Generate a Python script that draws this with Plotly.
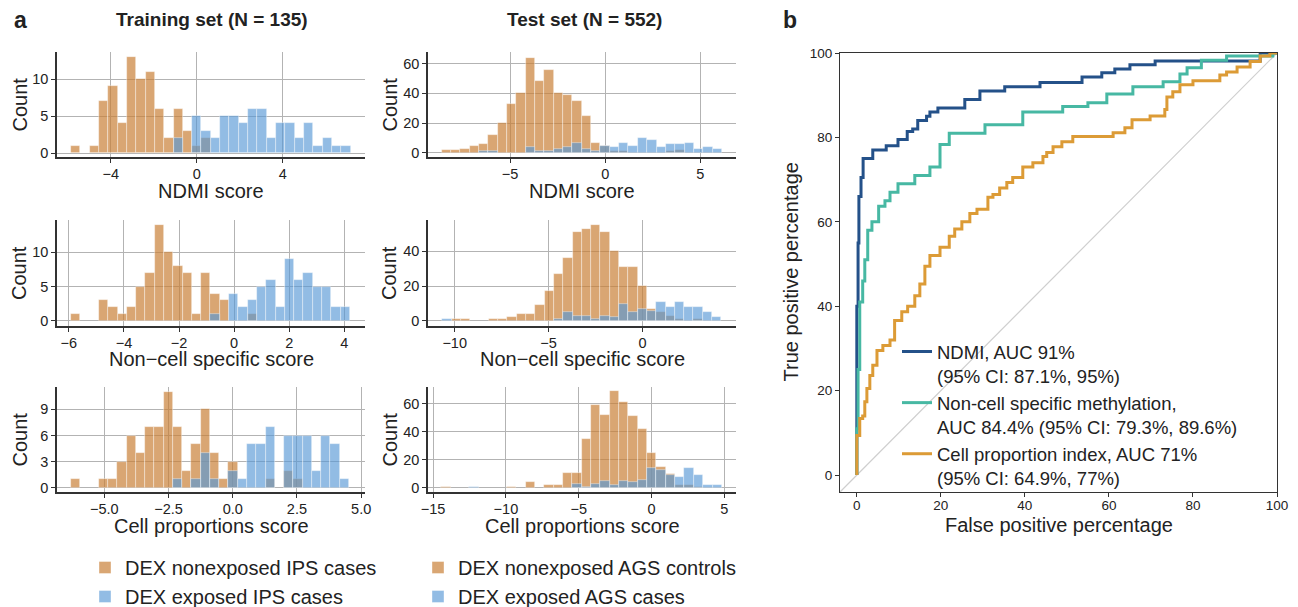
import numpy as np
import plotly.graph_objects as go

FONT = "Liberation Sans, Arial, Helvetica, sans-serif"
W, H = 1298, 607
TXT = "#222222"

# ---------------- histogram data (30 bins per panel) ----------------
# bin ranges (lo, hi)
ndmi_train_range = (-5.85, 7.15)
ndmi_train_nonexp = [1, 0, 1, 7, 9, 4, 13, 10, 11, 6, 2, 6, 3, 1, 2, 0, 0, 0, 0, 0, 0, 0, 0, 0, 0, 0, 0, 0, 0, 0]
ndmi_train_exp = [0, 0, 0, 0, 0, 0, 0, 0, 0, 0, 0, 2, 0, 5, 3, 2, 5, 5, 4, 6, 6, 2, 4, 4, 2, 4, 1, 2, 1, 1]

ndmi_test_range = (-8.61, 6.14)
ndmi_test_nonexp = [2, 2, 3, 5, 6, 12, 20, 33, 40, 64, 48, 56, 40, 39, 35, 25, 7, 5, 1, 1, 0, 0, 0, 0, 1, 2, 0, 0, 0, 0]
ndmi_test_exp = [0, 0, 0, 0, 1, 1, 0, 0, 0, 4, 1, 1, 3, 4, 7, 3, 1, 5, 4, 7, 5, 10, 9, 4, 6, 6, 7, 3, 4, 3]

noncell_train_range = (-5.92, 4.20)
noncell_train_nonexp = [1, 0, 0, 3, 2, 1, 2, 5, 7, 14, 10, 8, 7, 1, 7, 4, 3, 0, 0, 1, 0, 0, 0, 0, 0, 0, 0, 0, 0, 0]
noncell_train_exp = [0, 0, 0, 0, 0, 0, 0, 0, 0, 0, 0, 0, 0, 0, 0, 1, 0, 4, 2, 3, 5, 6, 2, 9, 6, 7, 5, 5, 2, 2]

noncell_test_range = (-10.66, 4.19)
noncell_test_nonexp = [0, 1, 1, 0, 0, 1, 1, 2, 4, 4, 9, 17, 27, 36, 51, 53, 55, 51, 40, 31, 31, 20, 7, 5, 3, 1, 0, 1, 0, 0]
noncell_test_exp = [1, 0, 0, 0, 0, 0, 0, 0, 0, 0, 0, 0, 1, 5, 3, 3, 1, 3, 2, 10, 5, 7, 6, 11, 8, 11, 8, 8, 5, 2]

cell_train_range = (-6.29, 4.52)
cell_train_nonexp = [1, 0, 0, 1, 1, 3, 6, 4, 7, 7, 11, 7, 2, 5, 9, 4, 1, 3, 0, 0, 0, 1, 0, 2, 1, 0, 0, 0, 0, 0]
cell_train_exp = [0, 0, 0, 0, 0, 0, 0, 0, 0, 0, 0, 1, 0, 1, 4, 1, 0, 2, 1, 5, 5, 7, 0, 6, 6, 6, 2, 6, 5, 1]

cell_test_range = (-14.43, 4.83)
cell_test_nonexp = [1, 0, 0, 0, 0, 0, 0, 1, 0, 4, 0, 2, 2, 11, 11, 35, 59, 52, 69, 61, 51, 42, 25, 15, 10, 2, 2, 1, 0, 0]
cell_test_exp = [0, 0, 0, 1, 0, 0, 0, 0, 0, 0, 0, 0, 0, 0, 3, 1, 3, 5, 2, 5, 4, 6, 14, 13, 9, 8, 14, 9, 2, 2]

# ---------------- ROC data (step corners: FPR %, TPR %) ----------------
ndmi_fpr = [0, 0, 0.3, 0.5, 1, 1.5, 3.8, 7, 9.8, 12, 13.3, 14.5, 16.6, 17.4, 19.3, 25.7, 29.3, 35.2, 43.6, 53.6, 58.3, 61.4, 65, 71, 96, 100]
ndmi_tpr = [0, 40, 55, 66, 70.5, 75, 77, 78, 79.5, 81.4, 82, 84, 85, 86, 87, 89, 91, 92, 93, 94.3, 95.3, 96.2, 97.2, 98.1, 100, 100]

noncell_fpr = [0, 0, 0.3, 0.7, 1.4, 1.9, 2.6, 3.6, 5.2, 6.7, 7.9, 9.8, 13.8, 17.4, 19.8, 22, 30.5, 39.5, 49, 55, 59.5, 65.7, 72.9, 76.9, 78.6, 82, 88, 99, 100]
noncell_tpr = [0, 11, 25, 41, 46, 51, 58, 60, 63.7, 65, 67, 69, 71, 73, 78.3, 81, 83, 86, 87.3, 88.2, 90.3, 92, 93.2, 95, 96.5, 98.3, 99.3, 100, 100]

cellprop_fpr = [0, 0, 0.7, 1.4, 1.9, 2.4, 3.1, 3.8, 4.8, 6.2, 7.9, 9, 10.7, 12.1, 13.8, 15, 16.2, 17.4, 19.8, 22, 23.3, 25, 26.9, 28.6, 31.2, 32.4, 34, 35.7, 37.1, 39.5, 41.9, 44.3, 45.2, 46.7, 48.8, 51.4, 61, 63.8, 65.5, 69.8, 73.3, 73.8, 75.2, 76.9, 80, 86.4, 88, 90.5, 93.6, 96, 98.3, 100]
cellprop_tpr = [0, 9.4, 13.4, 14, 17.4, 20.5, 23.6, 26, 29.5, 30.7, 32, 36.6, 38.7, 40, 42.5, 45.3, 49.5, 52, 54, 56.6, 58.3, 60, 62, 63, 65.8, 66.5, 68, 69.3, 70.5, 73, 74, 75.5, 76.4, 77.8, 79, 80.2, 81.1, 82.3, 84.2, 85.1, 86.6, 89.6, 90.8, 92.5, 93.4, 94.8, 95.5, 96.7, 98, 99.3, 100, 100]

roc_names = [
    "NDMI, AUC 91%<br>(95% CI: 87.1%, 95%)",
    "Non-cell specific methylation,<br>AUC 84.4% (95% CI: 79.3%, 89.6%)",
    "Cell proportion index, AUC 71%<br>(95% CI: 64.9%, 77%)",
]
roc_colors = ["#245189", "#47b8a3", "#dc9b36"]

group_names_left = ["DEX nonexposed IPS cases", "DEX exposed IPS cases"]
group_names_right = ["DEX nonexposed AGS controls", "DEX exposed AGS cases"]

BROWN = "rgba(201,128,55,0.70)"
BLUE = "rgba(87,152,214,0.65)"
EDGE = "rgba(255,255,255,0.55)"

fig = go.Figure()


def px_x(p):
    return p / W


def px_y(p):
    return 1 - p / H


col_px = [(57, 365), (428, 736)]
row_px = [(52, 157), (220, 326), (387, 492)]
col_dom = [[px_x(a), px_x(b)] for a, b in col_px]
row_dom = [[px_y(b), px_y(a)] for a, b in row_px]
xtitle_y = [191, 359, 526]
ytitle_x = [19, 389]

panels = [
    # (range, nonexp, exp, row, col, xrange, yrange, xticks, yticks, xtitle, xfmt)
    (ndmi_train_range, ndmi_train_nonexp, ndmi_train_exp, 0, 0, [-6.5, 7.82], [-0.54, 13.65], [-4, 0, 4], [0, 5, 10], "NDMI score", None),
    (ndmi_test_range, ndmi_test_nonexp, ndmi_test_exp, 0, 1, [-9.32, 6.88], [-2.7, 67.8], [-5, 0, 5], [0, 20, 40, 60], "NDMI score", None),
    (noncell_train_range, noncell_train_nonexp, noncell_train_exp, 1, 0, [-6.43, 4.75], [-0.73, 14.7], [-6, -4, -2, 0, 2, 4], [0, 5, 10], "Non\u2212cell specific score", None),
    (noncell_test_range, noncell_test_nonexp, noncell_test_exp, 1, 1, [-11.42, 4.97], [-2.9, 58], [-10, -5, 0], [0, 20, 40], "Non\u2212cell specific score", None),
    (cell_train_range, cell_train_nonexp, cell_train_exp, 2, 0, [-6.84, 5.15], [-0.46, 11.56], [-5, -2.5, 0, 2.5, 5], [0, 3, 6, 9], "Cell proportions score", ".1f"),
    (cell_test_range, cell_test_nonexp, cell_test_exp, 2, 1, [-15.35, 5.8], [-2.9, 72], [-15, -10, -5, 0, 5], [0, 20, 40, 60], "Cell proportions score", None),
]

annots = []
layout_axes = {}
for i, (rng, nonexp, exp, r, c, xr, yr, xt, yt, xtitle, xfmt) in enumerate(panels):
    n = i + 1
    edges = np.linspace(rng[0], rng[1], len(nonexp) + 1)
    centers = (edges[:-1] + edges[1:]) / 2
    bw = edges[1] - edges[0]
    names = group_names_left if c == 0 else group_names_right
    leg = "legend2" if c == 0 else "legend3"
    for counts, color, name in ((nonexp, BROWN, names[0]), (exp, BLUE, names[1])):
        cnt = np.array(counts, dtype=float)
        keep = cnt > 0
        fig.add_trace(go.Bar(
            x=centers[keep], y=cnt[keep], width=bw,
            marker=dict(color=color, line=dict(color=EDGE, width=0.7)),
            name=name, legend=leg, showlegend=(r == 0),
            xaxis=f"x{n}", yaxis=f"y{n}", hoverinfo="skip",
        ))
    xk = "xaxis" if n == 1 else f"xaxis{n}"
    yk = "yaxis" if n == 1 else f"yaxis{n}"
    common = dict(showgrid=True, gridcolor="#b3b3b3", gridwidth=0.8, zeroline=False,
                  showline=True, linecolor="#333333", linewidth=1.5, automargin=False,
                  ticks="outside", ticklen=4, tickwidth=1.2, tickcolor="#333333",
                  tickfont=dict(size=14.5, color=TXT, family=FONT))
    layout_axes[xk] = dict(domain=col_dom[c], range=xr, tickvals=xt, anchor=f"y{n}",
                           tickformat=xfmt if xfmt else None, ticklabelstandoff=-1, **common)
    layout_axes[yk] = dict(domain=row_dom[r], range=yr, tickvals=yt, anchor=f"x{n}", **common)
    # axis titles
    annots.append(dict(text=xtitle, x=px_x(sum(col_px[c]) / 2), y=px_y(xtitle_y[r]),
                       font=dict(size=20)))
    annots.append(dict(text="Count", x=px_x(ytitle_x[c]), y=px_y(sum(row_px[r]) / 2),
                       font=dict(size=20), textangle=-90))

# ---------------- ROC panel ----------------
for fpr, tpr, name, color in ((ndmi_fpr, ndmi_tpr, roc_names[0], roc_colors[0]),
                              (noncell_fpr, noncell_tpr, roc_names[1], roc_colors[1]),
                              (cellprop_fpr, cellprop_tpr, roc_names[2], roc_colors[2])):
    fig.add_trace(go.Scatter(x=fpr, y=tpr, mode="lines", name=name,
                             line=dict(color=color, width=3, shape="hv"),
                             xaxis="x7", yaxis="y7", legend="legend", hoverinfo="skip"))

roc_px_x = (840, 1277)
roc_px_y = (53, 492)
roc_common = dict(showgrid=False, zeroline=False, showline=True, mirror=True, automargin=False,
                  linecolor="#333333", linewidth=1.2, ticks="outside", ticklen=4,
                  tickwidth=1.2, tickcolor="#333333",
                  tickfont=dict(size=13.5, color=TXT, family=FONT))
layout_axes["xaxis7"] = dict(domain=[px_x(roc_px_x[0]), px_x(roc_px_x[1])], range=[-4, 100], anchor="y7",
                             tickvals=[0, 20, 40, 60, 80, 100], ticklabelstandoff=-3, **roc_common)
layout_axes["yaxis7"] = dict(domain=[px_y(roc_px_y[1]), px_y(roc_px_y[0])], range=[-4, 100], anchor="x7",
                             tickvals=[0, 20, 40, 60, 80, 100], **roc_common)
annots.append(dict(text="False positive percentage", x=px_x(sum(roc_px_x) / 2), y=px_y(525),
                   font=dict(size=20)))
annots.append(dict(text="True positive percentage", x=px_x(790), y=px_y(sum(roc_px_y) / 2),
                   font=dict(size=20), textangle=-90))

fig.update_layout(**layout_axes)

# chance diagonal, corner to corner of the ROC plot area
fig.add_shape(type="line", xref="x7 domain", yref="y7 domain", x0=0, y0=0, x1=1, y1=1,
              line=dict(color="#cfcfcf", width=1.2), layer="below")

annots += [
    dict(text="<b>a</b>", x=px_x(20), y=px_y(20), font=dict(size=23)),
    dict(text="<b>Training set (N = 135)</b>", x=px_x(212), y=px_y(20), font=dict(size=19)),
    dict(text="<b>Test set (N = 552)</b>", x=px_x(584), y=px_y(20), font=dict(size=19)),
    dict(text="<b>b</b>", x=px_x(790), y=px_y(20), font=dict(size=23)),
]
for a in annots:
    a["font"].update(color=TXT, family=FONT)
    fig.add_annotation(xref="paper", yref="paper", showarrow=False,
                       xanchor="center", yanchor="middle", **a)

fig.update_layout(
    width=W, height=H, autosize=False,
    margin=dict(l=0, r=0, t=0, b=0, autoexpand=False),
    paper_bgcolor="white", plot_bgcolor="white",
    barmode="overlay", bargap=0,
    font=dict(family=FONT, color=TXT),
    legend=dict(x=px_x(897), y=px_y(333), xanchor="left", yanchor="top",
                font=dict(size=18.5, color=TXT, family=FONT), bgcolor="rgba(0,0,0,0)",
                valign="top", tracegroupgap=0, itemwidth=30),
    legend2=dict(x=px_x(85), y=px_y(548), xanchor="left", yanchor="top",
                 font=dict(size=20, color=TXT, family=FONT), bgcolor="rgba(0,0,0,0)",
                 tracegroupgap=0),
    legend3=dict(x=px_x(418), y=px_y(548), xanchor="left", yanchor="top",
                 font=dict(size=20, color=TXT, family=FONT), bgcolor="rgba(0,0,0,0)",
                 tracegroupgap=0),
)

fig.write_html("out.html", config={"displayModeBar": False},
               post_script="document.body.style.margin='0';")
